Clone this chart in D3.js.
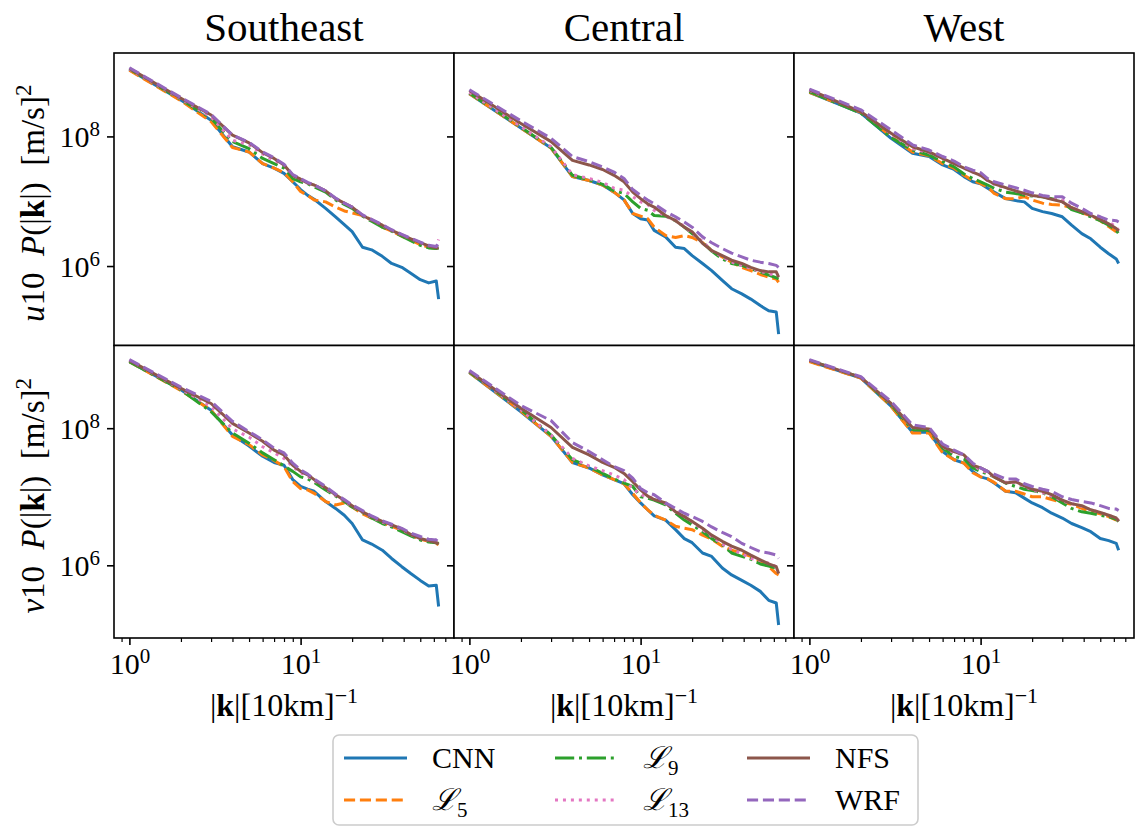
<!DOCTYPE html>
<html>
<head>
<meta charset="utf-8">
<title>Power spectra</title>
<script src="https://cdn.jsdelivr.net/npm/d3@7"></script>
<style>
  body { margin: 0; background: #fff; }
  svg text { font-family: "Liberation Serif", "DejaVu Serif", serif; fill: #000; white-space: pre; }
</style>
</head>
<body>
<svg id="drawing_region"></svg>
<script>
// wavenumbers |k| where the curves were read
const kValues = [1, 2, 3, 4, 5, 6, 7, 8, 9, 10, 11, 12, 14, 16, 18, 20, 23, 26, 30, 34, 39, 44, 50, 56, 62, 64];

// log10 P(|k|), Southeast u10
const seU10_CNN = [9.03, 8.56, 8.25, 7.84, 7.76, 7.58, 7.51, 7.43, 7.30, 7.18, 7.09, 7.03, 6.89, 6.76, 6.64, 6.53, 6.29, 6.25, 6.15, 6.04, 5.98, 5.89, 5.79, 5.74, 5.77, 5.49];
const seU10_L5  = [9.02, 8.55, 8.23, 7.83, 7.76, 7.58, 7.51, 7.44, 7.30, 7.15, 7.09, 7.02, 6.99, 6.91, 6.85, 6.82, 6.78, 6.71, 6.60, 6.54, 6.46, 6.40, 6.33, 6.29, 6.27, 6.27];
const seU10_L9  = [9.04, 8.57, 8.28, 7.92, 7.81, 7.66, 7.58, 7.51, 7.35, 7.30, 7.27, 7.22, 7.14, 7.02, 6.95, 6.89, 6.77, 6.69, 6.60, 6.54, 6.46, 6.39, 6.32, 6.28, 6.27, 6.28];
const seU10_L13 = [9.04, 8.58, 8.30, 7.94, 7.87, 7.73, 7.63, 7.56, 7.40, 7.33, 7.28, 7.25, 7.16, 7.04, 6.97, 6.91, 6.78, 6.71, 6.63, 6.55, 6.48, 6.42, 6.36, 6.31, 6.30, 6.41];
const seU10_NFS = [9.05, 8.59, 8.33, 8.02, 7.90, 7.75, 7.66, 7.56, 7.40, 7.34, 7.28, 7.25, 7.16, 7.04, 6.97, 6.91, 6.78, 6.71, 6.63, 6.55, 6.48, 6.42, 6.36, 6.31, 6.28, 6.28];
const seU10_WRF = [9.06, 8.60, 8.34, 8.02, 7.91, 7.76, 7.67, 7.57, 7.41, 7.35, 7.29, 7.25, 7.16, 7.05, 6.97, 6.91, 6.79, 6.72, 6.64, 6.56, 6.49, 6.43, 6.37, 6.32, 6.30, 6.35];

// Central u10
const ceU10_CNN = [8.66, 8.13, 7.82, 7.38, 7.32, 7.25, 7.14, 7.02, 6.81, 6.73, 6.71, 6.55, 6.45, 6.29, 6.27, 6.16, 6.04, 5.93, 5.78, 5.65, 5.57, 5.49, 5.39, 5.31, 5.29, 4.95];
const ceU10_L5  = [8.66, 8.13, 7.82, 7.38, 7.32, 7.25, 7.14, 7.02, 6.81, 6.77, 6.73, 6.60, 6.47, 6.44, 6.47, 6.44, 6.36, 6.24, 6.14, 6.06, 5.98, 5.93, 5.87, 5.83, 5.80, 5.75];
const ceU10_L9  = [8.67, 8.14, 7.83, 7.40, 7.33, 7.26, 7.16, 7.12, 6.99, 6.89, 6.86, 6.78, 6.77, 6.70, 6.60, 6.50, 6.37, 6.23, 6.11, 6.04, 6.01, 5.96, 5.91, 5.86, 5.82, 5.80];
const ceU10_L13 = [8.68, 8.15, 7.84, 7.41, 7.35, 7.29, 7.20, 7.17, 7.07, 6.99, 6.95, 6.86, 6.77, 6.71, 6.61, 6.50, 6.38, 6.24, 6.14, 6.06, 6.01, 5.96, 5.92, 5.88, 5.86, 5.86];
const ceU10_NFS = [8.71, 8.20, 7.92, 7.63, 7.56, 7.49, 7.40, 7.30, 7.14, 7.04, 6.96, 6.91, 6.78, 6.70, 6.60, 6.53, 6.35, 6.24, 6.16, 6.09, 6.04, 5.98, 5.93, 5.91, 5.91, 5.83];
const ceU10_WRF = [8.72, 8.24, 7.97, 7.69, 7.61, 7.53, 7.45, 7.35, 7.18, 7.09, 7.02, 6.96, 6.84, 6.76, 6.68, 6.60, 6.45, 6.36, 6.27, 6.20, 6.14, 6.09, 6.06, 6.04, 6.01, 5.98];

// West u10
const weU10_CNN = [8.68, 8.36, 7.97, 7.74, 7.69, 7.56, 7.49, 7.38, 7.30, 7.27, 7.20, 7.14, 7.04, 7.01, 6.99, 6.89, 6.84, 6.81, 6.76, 6.63, 6.50, 6.42, 6.29, 6.19, 6.11, 6.04];
const weU10_L5  = [8.68, 8.37, 8.00, 7.76, 7.70, 7.58, 7.51, 7.40, 7.32, 7.27, 7.22, 7.12, 7.04, 7.04, 7.07, 7.02, 6.97, 6.95, 6.94, 6.90, 6.82, 6.78, 6.70, 6.61, 6.53, 6.47];
const weU10_L9  = [8.69, 8.36, 7.98, 7.79, 7.71, 7.61, 7.53, 7.42, 7.35, 7.30, 7.25, 7.20, 7.14, 7.12, 7.09, 7.08, 7.07, 7.04, 7.00, 6.87, 6.82, 6.76, 6.70, 6.63, 6.55, 6.50];
const weU10_L13 = [8.71, 8.39, 8.04, 7.81, 7.75, 7.66, 7.58, 7.51, 7.45, 7.40, 7.32, 7.26, 7.20, 7.16, 7.12, 7.09, 7.07, 7.04, 7.02, 6.90, 6.85, 6.80, 6.73, 6.68, 6.60, 6.55];
const weU10_NFS = [8.72, 8.38, 8.05, 7.84, 7.76, 7.66, 7.58, 7.51, 7.45, 7.40, 7.32, 7.27, 7.21, 7.16, 7.12, 7.09, 7.07, 7.03, 6.99, 6.90, 6.84, 6.78, 6.72, 6.65, 6.58, 6.54];
const weU10_WRF = [8.73, 8.41, 8.10, 7.87, 7.79, 7.69, 7.62, 7.53, 7.48, 7.44, 7.35, 7.30, 7.25, 7.21, 7.17, 7.13, 7.09, 7.07, 7.07, 6.97, 6.89, 6.81, 6.76, 6.71, 6.70, 6.68];

// Southeast v10
const seV10_CNN = [8.97, 8.56, 8.26, 7.90, 7.74, 7.59, 7.50, 7.46, 7.25, 7.15, 7.11, 7.08, 6.93, 6.83, 6.73, 6.61, 6.37, 6.31, 6.22, 6.10, 5.98, 5.88, 5.78, 5.70, 5.71, 5.40];
const seV10_L5  = [8.97, 8.55, 8.26, 7.88, 7.76, 7.61, 7.53, 7.44, 7.22, 7.12, 7.10, 7.05, 6.93, 6.88, 6.91, 6.85, 6.75, 6.69, 6.62, 6.57, 6.51, 6.44, 6.38, 6.35, 6.32, 6.30];
const seV10_L9  = [8.97, 8.56, 8.24, 7.93, 7.78, 7.64, 7.54, 7.45, 7.37, 7.29, 7.26, 7.21, 7.10, 7.01, 6.93, 6.85, 6.77, 6.69, 6.61, 6.56, 6.49, 6.43, 6.37, 6.34, 6.33, 6.32];
const seV10_L13 = [8.99, 8.57, 8.32, 7.99, 7.87, 7.73, 7.64, 7.56, 7.44, 7.35, 7.30, 7.24, 7.12, 7.02, 6.94, 6.86, 6.78, 6.70, 6.63, 6.58, 6.52, 6.45, 6.39, 6.36, 6.36, 6.38];
const seV10_NFS = [8.99, 8.58, 8.36, 8.07, 7.93, 7.81, 7.68, 7.61, 7.46, 7.37, 7.32, 7.25, 7.13, 7.03, 6.95, 6.87, 6.78, 6.71, 6.64, 6.59, 6.53, 6.45, 6.39, 6.36, 6.33, 6.31];
const seV10_WRF = [9.00, 8.60, 8.39, 8.10, 7.95, 7.83, 7.71, 7.64, 7.49, 7.39, 7.33, 7.26, 7.15, 7.04, 6.96, 6.88, 6.80, 6.72, 6.65, 6.60, 6.54, 6.47, 6.42, 6.38, 6.37, 6.42];

// Central v10
const ceV10_CNN = [8.81, 8.24, 7.88, 7.50, 7.42, 7.32, 7.25, 7.19, 7.03, 6.91, 6.81, 6.72, 6.66, 6.52, 6.39, 6.33, 6.18, 6.13, 5.96, 5.86, 5.78, 5.71, 5.62, 5.49, 5.45, 5.13];
const ceV10_L5  = [8.81, 8.25, 7.88, 7.50, 7.42, 7.32, 7.25, 7.19, 7.05, 6.91, 6.81, 6.73, 6.66, 6.57, 6.54, 6.52, 6.44, 6.38, 6.28, 6.22, 6.18, 6.13, 6.05, 5.98, 5.88, 5.86];
const ceV10_L9  = [8.82, 8.27, 7.90, 7.54, 7.44, 7.34, 7.26, 7.20, 7.15, 7.00, 6.98, 6.95, 6.88, 6.76, 6.66, 6.59, 6.49, 6.39, 6.30, 6.18, 6.13, 6.09, 6.02, 5.99, 5.96, 5.93];
const ceV10_L13 = [8.83, 8.27, 7.90, 7.56, 7.45, 7.38, 7.32, 7.25, 7.12, 7.03, 7.00, 6.98, 6.90, 6.80, 6.72, 6.64, 6.52, 6.42, 6.31, 6.23, 6.17, 6.10, 6.07, 6.03, 5.98, 5.93];
const ceV10_NFS = [8.83, 8.29, 8.01, 7.72, 7.61, 7.50, 7.43, 7.34, 7.22, 7.10, 7.01, 6.96, 6.91, 6.78, 6.71, 6.64, 6.54, 6.44, 6.35, 6.28, 6.22, 6.15, 6.08, 6.02, 5.98, 5.88];
const ceV10_WRF = [8.84, 8.33, 8.11, 7.79, 7.66, 7.54, 7.44, 7.38, 7.27, 7.12, 7.06, 7.03, 6.91, 6.83, 6.76, 6.71, 6.64, 6.56, 6.48, 6.42, 6.32, 6.26, 6.20, 6.18, 6.15, 6.10];

// West v10
const weV10_CNN = [8.98, 8.73, 8.32, 7.94, 7.94, 7.66, 7.54, 7.49, 7.37, 7.29, 7.26, 7.20, 7.08, 7.06, 6.98, 6.91, 6.84, 6.76, 6.69, 6.61, 6.55, 6.49, 6.39, 6.36, 6.32, 6.22];
const weV10_L5  = [8.97, 8.73, 8.32, 7.93, 7.93, 7.64, 7.54, 7.49, 7.35, 7.29, 7.26, 7.21, 7.08, 7.08, 7.04, 7.00, 7.00, 6.96, 6.92, 6.89, 6.83, 6.78, 6.75, 6.71, 6.66, 6.61];
const weV10_L9  = [8.99, 8.74, 8.34, 7.98, 7.97, 7.71, 7.59, 7.55, 7.42, 7.37, 7.33, 7.29, 7.20, 7.15, 7.11, 7.09, 7.06, 7.00, 6.91, 6.83, 6.78, 6.76, 6.73, 6.71, 6.67, 6.64];
const weV10_L13 = [8.99, 8.74, 8.36, 8.01, 8.00, 7.73, 7.64, 7.61, 7.46, 7.39, 7.35, 7.29, 7.21, 7.21, 7.15, 7.10, 7.06, 7.01, 6.94, 6.90, 6.86, 6.81, 6.77, 6.73, 6.69, 6.65];
const weV10_NFS = [8.99, 8.74, 8.36, 8.01, 7.99, 7.73, 7.66, 7.61, 7.46, 7.42, 7.37, 7.29, 7.20, 7.22, 7.16, 7.11, 7.08, 7.03, 6.95, 6.90, 6.87, 6.81, 6.77, 6.73, 6.69, 6.64];
const weV10_WRF = [9.00, 8.75, 8.39, 8.05, 8.01, 7.77, 7.68, 7.61, 7.49, 7.42, 7.37, 7.33, 7.26, 7.26, 7.19, 7.15, 7.11, 7.08, 7.00, 6.96, 6.93, 6.91, 6.87, 6.83, 6.82, 6.80];

const regions = ['Southeast', 'Central', 'West'];
const variables = ['u10', 'v10'];
const seriesNames = ['CNN', 'L5', 'L9', 'L13', 'NFS', 'WRF'];
const xTicks = [1, 10];
const xMinorTicks = [0.9, 2, 3, 4, 5, 6, 7, 8, 9, 20, 30, 40, 50, 60, 70];
const yTicks = [1e6, 1e8];
const xDomain = [0.813, 78.7];
const yDomainExp = [[4.774, 9.287], [4.94, 9.206]];

// panels[row][col] = list of series in plot order
const panels = [
    [
        [seU10_CNN, seU10_L5, seU10_L9, seU10_L13, seU10_NFS, seU10_WRF],
        [ceU10_CNN, ceU10_L5, ceU10_L9, ceU10_L13, ceU10_NFS, ceU10_WRF],
        [weU10_CNN, weU10_L5, weU10_L9, weU10_L13, weU10_NFS, weU10_WRF],
    ],
    [
        [seV10_CNN, seV10_L5, seV10_L9, seV10_L13, seV10_NFS, seV10_WRF],
        [ceV10_CNN, ceV10_L5, ceV10_L9, ceV10_L13, ceV10_NFS, ceV10_WRF],
        [weV10_CNN, weV10_L5, weV10_L9, weV10_L13, weV10_NFS, weV10_WRF],
    ],
];

const colors = ['#1f77b4', '#ff7f0e', '#2ca02c', '#e377c2', '#8c564b', '#9467bd'];
const dashes = [null, '11.1,4.8', '19.2,4.8,3,4.8', '3,4.95', null, '11.1,4.8'];

const config = {
    width: 1139,
    height: 827,
    left: 114,
    top: 53,
    cell_width: 340,
    cell_height: 292.5,
};

const svg = d3.select('#drawing_region')
    .attr('width', config.width)
    .attr('height', config.height);

svg.append('rect')
    .attr('width', config.width)
    .attr('height', config.height)
    .attr('fill', '#fff');

const xscale = d3.scaleLog()
    .domain(xDomain)
    .range([0, config.cell_width]);

// write "10^n" as a base plus a raised exponent
function powerLabel(text, d, base_dy, supSize, supDy) {
    text.text(null).attr('dy', null).attr('y', base_dy);
    text.append('tspan').text('10');
    text.append('tspan')
        .attr('font-size', supSize)
        .attr('dy', supDy)
        .text(Math.round(Math.log10(d)));
}

svg.append('defs').append('clipPath')
    .attr('id', 'cell_clip')
    .append('rect')
    .attr('width', config.cell_width)
    .attr('height', config.cell_height);

panels.forEach((row, r) => {
    const yscale = d3.scaleLog()
        .domain(yDomainExp[r].map(e => Math.pow(10, e)))
        .range([config.cell_height, 0]);

    const line = d3.line()
        .x((d, i) => xscale(kValues[i]))
        .y(d => yscale(Math.pow(10, d)));

    row.forEach((seriesSet, c) => {
        const cell = svg.append('g')
            .attr('transform', `translate(${config.left + c * config.cell_width}, ${config.top + r * config.cell_height})`);

        cell.append('rect')
            .attr('width', config.cell_width)
            .attr('height', config.cell_height)
            .attr('fill', '#fff');

        const plot = cell.append('g').attr('clip-path', 'url(#cell_clip)');
        seriesSet.forEach((values, s) => {
            plot.append('path')
                .attr('d', line(values))
                .attr('fill', 'none')
                .attr('stroke', colors[s])
                .attr('stroke-width', 3)
                .attr('stroke-linejoin', 'round')
                .attr('stroke-dasharray', dashes[s]);
        });

        // y axis on every cell, labels only on the first column
        const yaxis = d3.axisLeft(yscale)
            .tickValues(yTicks)
            .tickSize(7)
            .tickPadding(7)
            .tickSizeOuter(0);
        const ygroup = cell.append('g').call(yaxis);
        ygroup.select('.domain').remove();
        ygroup.selectAll('.tick line').attr('stroke', '#000').attr('stroke-width', 1.6);
        ygroup.attr('font-family', null).attr('font-size', 30);
        if (c === 0) {
            ygroup.selectAll('.tick text').each(function (d) {
                powerLabel(d3.select(this), d, 10, 21, -11);
            });
        } else {
            ygroup.selectAll('.tick text').remove();
        }

        if (r === panels.length - 1) {
            const xminor = d3.axisBottom(xscale)
                .tickValues(xMinorTicks)
                .tickSize(4)
                .tickFormat('')
                .tickSizeOuter(0);
            const mgroup = cell.append('g')
                .attr('transform', `translate(0, ${config.cell_height})`)
                .call(xminor);
            mgroup.select('.domain').remove();
            mgroup.selectAll('.tick line').attr('stroke', '#000').attr('stroke-width', 1.2);

            const xaxis = d3.axisBottom(xscale)
                .tickValues(xTicks)
                .tickSize(7)
                .tickSizeOuter(0);
            const xgroup = cell.append('g')
                .attr('transform', `translate(0, ${config.cell_height})`)
                .call(xaxis);
            xgroup.select('.domain').remove();
            xgroup.selectAll('.tick line').attr('stroke', '#000').attr('stroke-width', 1.6);
            xgroup.attr('font-family', null).attr('font-size', 30);
            xgroup.selectAll('.tick text').each(function (d) {
                powerLabel(d3.select(this), d, 36, 21, -11);
            });

            const xlabel = cell.append('text')
                .attr('x', config.cell_width / 2)
                .attr('y', config.cell_height + 78)
                .attr('text-anchor', 'middle')
                .attr('font-size', 32);
            xlabel.append('tspan').text('|');
            xlabel.append('tspan').attr('font-weight', 'bold').text('k');
            xlabel.append('tspan').text('|[10km]');
            xlabel.append('tspan').attr('font-size', 22).attr('dy', -13).text('\u22121');
        }

        if (r === 0) {
            cell.append('text')
                .attr('x', config.cell_width / 2)
                .attr('y', -12)
                .attr('text-anchor', 'middle')
                .attr('font-size', 41)
                .text(regions[c]);
        }

        cell.append('rect')
            .attr('width', config.cell_width)
            .attr('height', config.cell_height)
            .attr('fill', 'none')
            .attr('stroke', '#000')
            .attr('stroke-width', 1.6);
    });

    // row label
    const cy = config.top + r * config.cell_height + config.cell_height / 2 + 4;
    const ylabel = svg.append('text')
        .attr('transform', `translate(44, ${cy}) rotate(-90)`)
        .attr('text-anchor', 'middle')
        .attr('font-size', 33);
    ylabel.append('tspan').attr('font-style', 'italic').text(variables[r][0]);
    ylabel.append('tspan').text(variables[r].slice(1) + '  ');
    ylabel.append('tspan').attr('font-style', 'italic').text('P');
    ylabel.append('tspan').text('(|');
    ylabel.append('tspan').attr('font-weight', 'bold').text('k');
    ylabel.append('tspan').text('|)  [m/s]');
    ylabel.append('tspan').attr('font-size', 23).attr('dy', -13).text('2');
});

// legend
const legend = svg.append('g').attr('transform', 'translate(333, 735)');
legend.append('rect')
    .attr('width', 585)
    .attr('height', 90)
    .attr('rx', 6)
    .attr('fill', '#fff')
    .attr('stroke', '#cccccc')
    .attr('stroke-width', 1.6);

const legendCols = [11, 222, 414];
const legendRows = [23, 65];
seriesNames.forEach((name, i) => {
    const col = Math.floor(i / 2), row = i % 2;
    const hx = legendCols[col], hy = legendRows[row];
    legend.append('line')
        .attr('x1', hx).attr('x2', hx + 63)
        .attr('y1', hy).attr('y2', hy)
        .attr('stroke', colors[i])
        .attr('stroke-width', 3)
        .attr('stroke-dasharray', dashes[i]);
    const label = legend.append('text')
        .attr('x', hx + 88)
        .attr('y', hy + 10)
        .attr('font-size', 30);
    if (name[0] === 'L') {
        label.append('tspan').attr('font-style', 'italic').text('\u2112');
        label.append('tspan').attr('font-size', 21).attr('dy', 7).text(name.slice(1));
    } else {
        label.text(name);
    }
});
</script>
</body>
</html>
